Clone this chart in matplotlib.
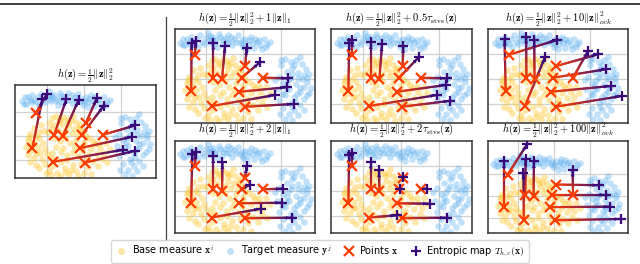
import numpy as np
import matplotlib
matplotlib.use("Agg")
import matplotlib.pyplot as plt
from matplotlib.collections import LineCollection
from matplotlib.colors import LinearSegmentedColormap
from matplotlib.lines import Line2D

plt.rcParams['mathtext.fontset'] = 'cm'
plt.rcParams['font.family'] = 'DejaVu Sans'

# base measure (yellow cloud)
base_x = [0.05, 0.15, 0.25, 0.35, 0.45, 0.55, 0.65, 0.78, 0.9, 0.2, 0.4, 0.6, 0.75, 0.95, 0.3, 0.1, 0.5, 0.85, 0.68, 0.02,
          -0.35, -0.45, -0.3, -0.5, -0.38, -0.2, -0.55, -0.42, -0.25, -0.1, -0.5, -0.35, -0.18, -0.05, -0.45, -0.3, -0.12, 0.0, -0.22, -0.08,
          0.2, 0.35, 0.5, 0.62, 0.8, 1.0, 1.15, 1.3, 1.45, 1.2, 0.95, 0.7, 0.45, 0.25, 0.15, 0.55, 0.85, 1.1, 1.35, 1.55, 1.6, 1.05,
          -0.2, -0.05, 0.05, 0.15, 0.28, 0.38, 0.48, 0.6, 0.7, 0.8, 0.92, 1.0, 1.12, 1.25, 1.38, 1.5, 0.35, 0.85, 0.1, 1.2, 0.55, 0.25,
          0.42, 0.72, -0.15, 1.7, 1.62, 0.98,
          0.58, 0.32, 0.88, 1.25, -0.4, -0.28, 0.75, 1.42, 0.12, 0.65, -0.02, 0.48, 1.08, -0.48, 0.38]
base_y = [1.55, 1.75, 1.82, 1.7, 1.8, 1.72, 1.65, 1.58, 1.45, 1.45, 1.5, 1.4, 1.3, 1.2, 1.25, 1.3, 1.2, 1.05, 1.12, 1.15,
          1.35, 1.1, 1.0, 0.85, 0.75, 0.9, 0.55, 0.4, 0.55, 0.7, 0.2, 0.1, 0.3, 0.45, -0.1, -0.2, 0.05, 0.25, 1.15, 1.2,
          0.9, 0.78, 0.92, 0.7, 0.85, 0.75, 0.9, 0.65, 0.5, 0.45, 0.4, 0.35, 0.5, 0.55, 0.3, 0.2, 0.15, 0.2, 0.25, 0.3, 0.7, 1.0,
          -0.35, -0.15, -0.45, -0.25, -0.55, -0.1, -0.35, -0.6, -0.2, -0.45, -0.15, -0.55, -0.3, -0.05, -0.25, 0.05, -0.68, -0.68, -0.62, -0.6, 0.0, 0.05,
          1.05, 1.85, 1.45, 0.45, -0.1, 0.58,
          1.58, 1.62, 1.35, 0.78, 0.62, 0.3, 0.55, 0.72, 0.1, -0.4, -0.55, -0.5, 0.05, 0.95, 0.35]

# target measure (blue cloud)
target_x = [-0.68, -0.6, -0.55, -0.45, -0.4, -0.3, -0.25, -0.15, -0.1, 0.0, 0.05, 0.12, 0.2, 0.28, 0.35, 0.42, 0.5, 0.58, 0.62, 0.7,
            0.75, 0.85, 0.9, 0.98, 1.05, 1.12, 1.2, 1.28, 1.35, 1.45, 1.55, 1.62, 1.7, 1.5, 0.3, -0.2, 0.15, 0.95, 0.45, 1.1,
            2.1, 2.25, 2.4, 2.55, 2.0, 2.3, 2.65, 2.15, 2.45, 2.75, 1.95, 2.25, 2.55, 2.7, 2.05, 2.4, 2.6, 1.9, 2.2, 2.5,
            2.75, 2.1, 2.35, 2.6, 1.95, 2.25, 2.5, 2.05, 2.35, 2.2, 2.45, 2.1, 2.3, 2.7, 2.8, 1.85, 2.35, 2.0, 2.5, 2.15,
            2.45, 2.6, 1.98,
            -0.62, -0.5, -0.35, -0.05, 0.08, 0.25, 0.38, 0.55, 0.68, 0.8, 1.0, 1.15, 1.25, 1.42, 1.6, 1.3, 0.1, -0.42,
            2.3, 2.62, 2.18, 2.5, 2.02, 2.38, 2.68, 2.12, 2.42, 2.28]
target_y = [2.45, 2.6, 2.35, 2.5, 2.7, 2.4, 2.6, 2.75, 2.5, 2.65, 2.85, 2.45, 2.7, 2.55, 2.8, 2.4, 2.65, 2.78, 2.5, 2.35,
            2.62, 2.75, 2.45, 2.3, 2.6, 2.4, 2.7, 2.25, 2.5, 2.35, 2.6, 2.4, 2.5, 2.2, 2.3, 2.3, 2.6, 2.55, 2.55, 2.2,
            1.8, 1.7, 1.75, 1.6, 1.55, 1.45, 1.4, 1.3, 1.25, 1.2, 1.1, 1.05, 1.0, 0.9, 0.85, 0.8, 0.7, 0.6, 0.6, 0.5,
            0.45, 0.35, 0.3, 0.2, 0.15, 0.05, -0.05, -0.15, -0.25, -0.4, -0.45, -0.6, -0.65, 1.05, 0.65, 0.95, 1.55, 1.75, 1.9, 0.75,
            1.05, -0.25, -0.4,
            2.35, 2.62, 2.5, 2.4, 2.55, 2.45, 2.68, 2.5, 2.7, 2.5, 2.4, 2.55, 2.45, 2.55, 2.28, 2.62, 2.72, 2.42,
            1.2, 1.15, 0.95, 0.65, 0.4, 0.12, 0.35, 0.55, 0.42, -0.1]

# points x (same in every panel)
pts_x = [-0.29, 0.20, 0.43, 0.95, 1.05, 1.52, -0.39, 0.89, 0.16, 1.03]
pts_y = [1.97, 1.05, 1.00, 1.05, 1.52, 1.05, 0.51, 0.49, -0.08, -0.11]

# entropic map T(x) for each regulariser
map_l2_x = [0.00, 0.53, 0.86, 1.54, 1.35, 2.39, -0.12, 2.29, 2.05, 2.38]
map_l2_y = [2.74, 2.54, 2.50, 2.26, 2.57, 1.44, 2.55, 0.96, 0.42, 0.38]
map_l1a_x = [-0.27, 0.20, 0.51, 1.44, 1.08, 2.19, -0.38, 2.15, 1.84, 2.33]
map_l1a_y = [2.53, 2.45, 2.33, 1.67, 2.23, 1.03, 2.43, 0.67, 0.36, 0.00]
map_l1b_x = [-0.27, 0.20, 0.44, 1.17, 1.08, 2.04, -0.36, 2.02, 1.46, 2.30]
map_l1b_y = [2.53, 2.37, 2.13, 1.24, 1.97, 1.07, 2.47, 0.51, 0.27, -0.09]
map_stvsa_x = [-0.29, 0.20, 0.50, 1.47, 1.06, 2.21, -0.37, 2.19, 1.96, 2.31]
map_stvsa_y = [2.56, 2.47, 2.39, 1.87, 2.32, 1.03, 2.43, 0.76, 0.36, 0.13]
map_stvsb_x = [-0.29, 0.20, 0.42, 0.97, 1.05, 1.68, -0.37, 1.76, 0.90, 2.21]
map_stvsb_y = [2.51, 2.15, 1.81, 1.08, 1.55, 1.07, 2.44, 0.47, 0.01, -0.09]
map_ovka_x = [1.06, 0.19, 0.42, 2.46, 2.24, 1.95, -0.42, 2.59, 0.73, 2.90]
map_ovka_y = [2.56, 2.69, 2.56, 1.39, 1.99, 2.13, 2.59, 0.72, 1.89, 0.32]
map_ovkb_x = [0.26, 0.21, 0.44, 2.44, 2.25, 1.51, -0.39, 2.55, 0.15, 2.85]
map_ovkb_y = [3.38, 2.69, 2.58, 1.05, 1.49, 2.20, 2.58, 0.51, 2.07, -0.05]

pre = r'$h(\mathbf{z}) = \frac{1}{2}\|\mathbf{z}\|_2^2'
titles = [pre + '$',
          pre + r' + 1\|\mathbf{z}\|_1$',
          pre + r' + 0.5\tau_{\mathrm{stvs}}(\mathbf{z})$',
          pre + r' + 10\|\mathbf{z}\|_{ovk}^2$',
          pre + r' + 2\|\mathbf{z}\|_1$',
          pre + r' + 2\tau_{\mathrm{stvs}}(\mathbf{z})$',
          pre + r' + 100\|\mathbf{z}\|_{ovk}^2$']
maps = [(map_l2_x, map_l2_y), (map_l1a_x, map_l1a_y), (map_stvsa_x, map_stvsa_y), (map_ovka_x, map_ovka_y),
        (map_l1b_x, map_l1b_y), (map_stvsb_x, map_stvsb_y), (map_ovkb_x, map_ovkb_y)]

W, H = 640.0, 264.0
# axes boxes in pixels: left, top, right, bottom
boxes = [(15, 85, 156, 178),
         (175, 29, 315, 122.5), (331, 29, 472, 122.5), (488, 29, 628, 122.5),
         (175, 140.5, 315, 233), (331, 140.5, 472, 233), (488, 140.5, 628, 233)]
xlims = [(-0.86, 2.95), (-0.82, 2.9), (-0.85, 2.88), (-0.89, 3.08), (-0.82, 2.9), (-0.85, 2.88), (-0.83, 3.04)]
ylims = [(-0.75, 3.12), (-0.74, 3.0), (-0.74, 3.0), (-0.74, 3.0), (-0.7, 3.0), (-0.7, 3.0), (-0.69, 3.53)]

yellow = '#ffc21a'
blue = '#5caef0'
red = '#ff3d00'
purple = '#3a0a7a'
cmap = LinearSegmentedColormap.from_list('rp', [red, purple])

fig = plt.figure(figsize=(6.4, 2.64), dpi=100)

for i in range(7):
    l, t, r, b = boxes[i]
    ax = fig.add_axes([l / W, 1 - b / H, (r - l) / W, (b - t) / H])
    ax.scatter(base_x, base_y, s=22, color=yellow, alpha=0.38, linewidths=0, zorder=1)
    ax.scatter(target_x, target_y, s=22, color=blue, alpha=0.38, linewidths=0, zorder=1)
    mx, my = maps[i]
    for k in range(len(pts_x)):
        p0 = np.array([pts_x[k], pts_y[k]])
        p1 = np.array([mx[k], my[k]])
        tt = np.linspace(0, 1, 25)
        pp = p0[None, :] + tt[:, None] * (p1 - p0)[None, :]
        segs = np.stack([pp[:-1], pp[1:]], axis=1)
        lc = LineCollection(segs, colors=cmap(tt[:-1]), linewidths=1.6, zorder=3, capstyle='round')
        ax.add_collection(lc)
        if np.hypot(*(p1 - p0)) > 0.05:
            ax.annotate('', xy=p1, xytext=p0,
                        arrowprops=dict(arrowstyle='-|>,head_length=0.35,head_width=0.18',
                                        color=purple, lw=0, shrinkA=0, shrinkB=2, mutation_scale=8),
                        zorder=4)
    ax.plot(pts_x, pts_y, 'x', color=red, ms=6.5, mew=1.6, zorder=5, linestyle='none')
    ax.plot(mx, my, '+', color=purple, ms=7.5, mew=1.6, zorder=6, linestyle='none')
    ax.set_xlim(*xlims[i])
    ax.set_ylim(*ylims[i])
    ax.set_xticks([0, 1, 2])
    ax.set_yticks([0, 1, 2])
    ax.tick_params(length=0, labelbottom=False, labelleft=False)
    ax.grid(True, color='#d0d0d0', lw=0.9)
    ax.set_axisbelow(True)
    for s in ax.spines.values():
        s.set_color('#333333')
        s.set_linewidth(1.1)
    ax.set_title(titles[i], fontsize=7.6, pad=1.5)

# separator line and top page rule
fig.add_artist(Line2D([166 / W, 166 / W], [1 - 17 / H, 1 - 240 / H], color='#444444', lw=0.9))
fig.add_artist(Line2D([0, 1], [1 - 3.7 / H, 1 - 3.7 / H], color='#333333', lw=1.3))

handles = [Line2D([], [], marker='o', color=yellow, alpha=0.38, ms=5, mew=0, linestyle='none'),
           Line2D([], [], marker='o', color=blue, alpha=0.38, ms=5, mew=0, linestyle='none'),
           Line2D([], [], marker='x', color=red, ms=7, mew=1.6, linestyle='none'),
           Line2D([], [], marker='+', color=purple, ms=7, mew=1.6, linestyle='none')]
labels = [r'Base measure $\mathbf{x}^i$', r'Target measure $\mathbf{y}^j$',
          r'Points $\mathbf{x}$', r'Entropic map $T_{h,\varepsilon}(\mathbf{x})$']
fig.legend(handles, labels, loc='center', bbox_to_anchor=(0.5, 1 - 251.5 / H), ncol=4, fontsize=7,
           frameon=True, fancybox=True, edgecolor='#cccccc', handletextpad=0.5, columnspacing=1.1,
           borderpad=0.4, handlelength=1.2)

fig.savefig('out.png', dpi=100)
